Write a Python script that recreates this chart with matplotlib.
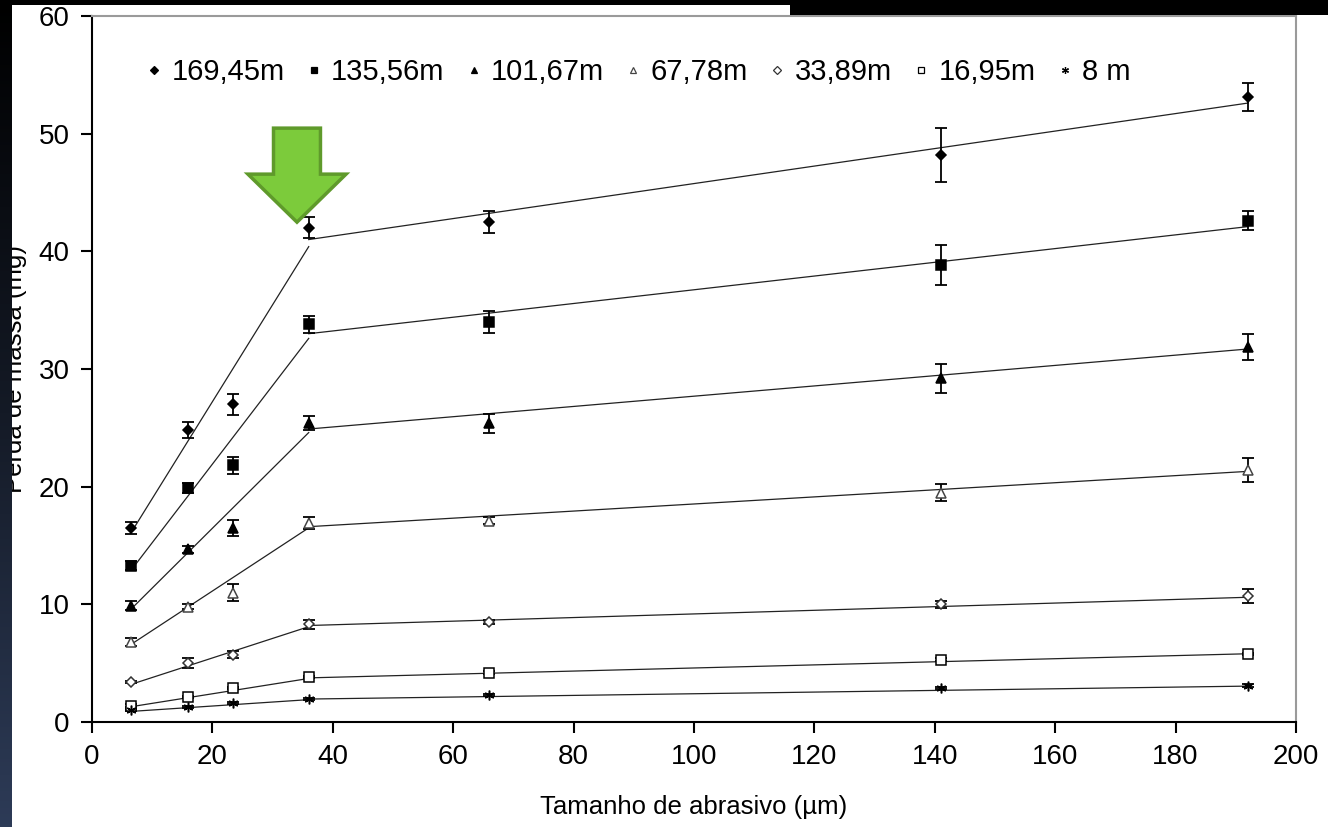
#!/usr/bin/env python3

import matplotlib
matplotlib.use("Agg")
import matplotlib.pyplot as plt
from matplotlib.lines import Line2D
from matplotlib.patches import FancyArrow, Rectangle
from matplotlib.colors import LinearSegmentedColormap
import numpy as np

# Tamanho de abrasivo (um)
x = [6.5, 16, 23.5, 36, 66, 141, 192]

labels = ["169,45m", "135,56m", "101,67m", "67,78m", "33,89m", "16,95m", "8 m"]

# Perda de massa (mg) por distancia
y_169 = [16.5, 24.8, 27.0, 42.0, 42.5, 48.2, 53.1]
y_135 = [13.3, 19.9, 21.8, 33.8, 34.0, 38.8, 42.6]
y_101 = [9.9, 14.7, 16.5, 25.4, 25.4, 29.2, 31.9]
y_67 = [6.8, 9.8, 11.0, 16.9, 17.1, 19.5, 21.4]
y_33 = [3.4, 5.0, 5.7, 8.3, 8.5, 10.0, 10.7]
y_16 = [1.4, 2.1, 2.9, 3.8, 4.2, 5.3, 5.8]
y_8 = [1.0, 1.3, 1.6, 1.95, 2.3, 2.9, 3.1]

e_169 = [0.5, 0.7, 0.9, 0.9, 0.9, 2.3, 1.2]
e_135 = [0.4, 0.4, 0.7, 0.7, 0.9, 1.7, 0.8]
e_101 = [0.4, 0.3, 0.7, 0.6, 0.8, 1.2, 1.1]
e_67 = [0.3, 0.2, 0.7, 0.5, 0.3, 0.7, 1.0]
e_33 = [0.1, 0.4, 0.3, 0.4, 0.2, 0.3, 0.6]
e_16 = [0.1, 0.1, 0.1, 0.1, 0.1, 0.1, 0.1]
e_8 = [0.1, 0.1, 0.1, 0.1, 0.1, 0.1, 0.1]

# Retas ajustadas: trecho 1 (x 6.5 -> 36) e trecho 2 (x 36 -> 192)
x_fit1 = [6.5, 36]
x_fit2 = [36, 192]
fit1 = [(16.1, 40.4), (12.9, 32.6), (9.6, 24.6), (6.6, 16.5), (3.2, 8.1), (1.3, 3.7), (0.9, 1.9)]
fit2 = [(41.0, 52.6), (33.0, 42.1), (24.9, 31.7), (16.6, 21.3), (8.2, 10.6), (3.75, 5.8), (1.95, 3.05)]

series_y = [y_169, y_135, y_101, y_67, y_33, y_16, y_8]
series_e = [e_169, e_135, e_101, e_67, e_33, e_16, e_8]

# estilo dos marcadores: (marker, size, facecolor, edgecolor)
styles = [
    ("D", 5.5, "black", "black"),
    ("s", 6.5, "black", "black"),
    ("^", 7, "black", "black"),
    ("^", 7, "white", "#444444"),
    ("D", 5.5, "white", "#333333"),
    ("s", 7, "white", "black"),
    ((6, 2, 0), 7, "black", "black"),
]
legend_sizes = [4, 4.5, 4.5, 4.5, 4, 5, 5]

plt.rcParams["font.family"] = ["Liberation Sans", "DejaVu Sans"]

fig = plt.figure(figsize=(13.28, 8.27), dpi=100)
fig.patch.set_facecolor("white")
ax = fig.add_axes([92 / 1328, 1 - 722 / 827, 1204 / 1328, 706 / 827])

for i in range(len(series_y)):
    ax.plot(x_fit1, fit1[i], color="#222222", linewidth=0.9, zorder=2)
    ax.plot(x_fit2, fit2[i], color="#222222", linewidth=0.9, zorder=2)
    marker, ms, fc, ec = styles[i]
    ax.errorbar(
        x, series_y[i], yerr=series_e[i],
        fmt="none", ecolor="black", elinewidth=1.3, capsize=4, capthick=1.3, zorder=3,
    )
    ax.plot(
        x, series_y[i], linestyle="none", marker=marker, markersize=ms,
        markerfacecolor=fc, markeredgecolor=ec, markeredgewidth=1.1, zorder=4,
    )

# legenda com marcadores
handles = []
for i, lab in enumerate(labels):
    marker, ms, fc, ec = styles[i]
    handles.append(Line2D([], [], linestyle="none", marker=marker, markersize=legend_sizes[i],
                          markerfacecolor=fc, markeredgecolor=ec, markeredgewidth=0.9, label=lab))
ax.legend(handles=handles, ncol=7, loc="center", bbox_to_anchor=(0.454, 0.921), frameon=False,
          fontsize=21, handlelength=0.5, handletextpad=0.35, columnspacing=0.75, borderpad=0)

# seta verde
ax.add_patch(FancyArrow(34.05, 50.47, 0, -7.99, width=7.8, head_width=16.3, head_length=4.08,
                        length_includes_head=True, facecolor="#7ccb3b", edgecolor="#5f9a2b",
                        linewidth=2.5, zorder=5))

ax.set_xlim(0, 200)
ax.set_ylim(0, 60)
ax.set_xticks(np.arange(0, 201, 20))
ax.set_yticks(np.arange(0, 61, 10))
ax.tick_params(direction="out", length=8, width=1.5, labelsize=20, pad=8, colors="black")
for s in ["left", "bottom"]:
    ax.spines[s].set_linewidth(1.5)
    ax.spines[s].set_color("black")
for s in ["top", "right"]:
    ax.spines[s].set_linewidth(1.5)
    ax.spines[s].set_color("#9a9a9a")

ax.set_xlabel("Tamanho de abrasivo (µm)", fontsize=18.5, labelpad=18)
ax.set_ylabel("Perda de massa (mg)", fontsize=18.5)
ax.yaxis.set_label_coords(-0.054, 0.5)

# faixas escuras do slide (topo e esquerda)
fig.patches.append(Rectangle((0, 1 - 5 / 827), 1, 5 / 827, transform=fig.transFigure,
                             facecolor="black", edgecolor="none", zorder=10))
fig.patches.append(Rectangle((790 / 1328, 1 - 15 / 827), 1, 15 / 827, transform=fig.transFigure,
                             facecolor="black", edgecolor="none", zorder=10))
strip = fig.add_axes([0, 0, 12 / 1328, 1], zorder=10)
cmap = LinearSegmentedColormap.from_list("slide", ["#000000", "#141a26", "#2d3b57"])
strip.imshow(np.linspace(0, 1, 256).reshape(-1, 1), aspect="auto", cmap=cmap)
strip.set_axis_off()

plt.savefig("out.png", dpi=100)
